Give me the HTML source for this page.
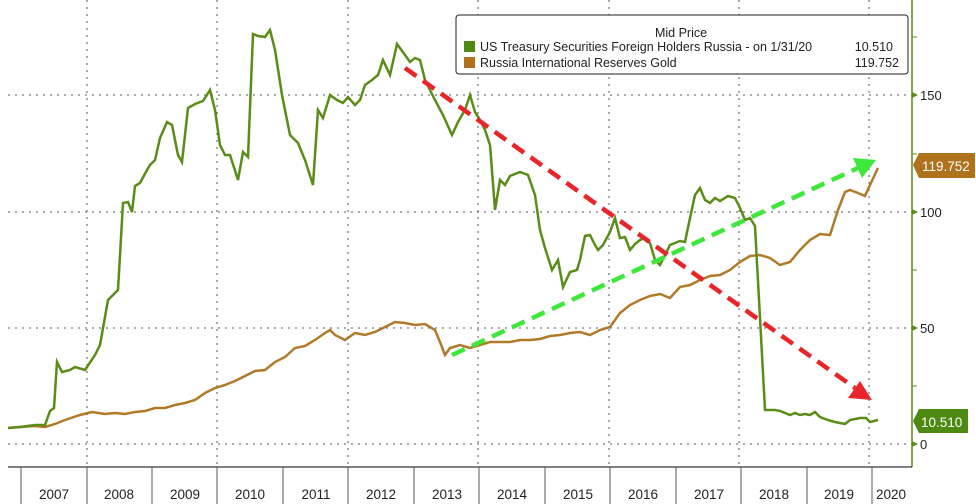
<!DOCTYPE html>
<html><head><meta charset="utf-8"><style>
body{margin:0;background:#fff;}
svg{display:block;font-family:"Liberation Sans",sans-serif;}
</style></head><body>
<svg width="976" height="504" viewBox="0 0 976 504">
<rect width="976" height="504" fill="#fff"/>
<g stroke="#555" stroke-width="1" stroke-dasharray="2,5">
<line x1="8" y1="444" x2="912" y2="444"/>
<line x1="8" y1="328" x2="912" y2="328"/>
<line x1="8" y1="212" x2="912" y2="212"/>
<line x1="8" y1="95" x2="912" y2="95"/>
<line x1="87" y1="0" x2="87" y2="467"/>
<line x1="217" y1="0" x2="217" y2="467"/>
<line x1="348" y1="0" x2="348" y2="467"/>
<line x1="478" y1="0" x2="478" y2="467"/>
<line x1="609" y1="0" x2="609" y2="467"/>
<line x1="739" y1="0" x2="739" y2="467"/>
<line x1="869" y1="0" x2="869" y2="467"/>
</g>
<polyline fill="none" stroke="#b07a2a" stroke-width="2.5" points="8,428 20,427 35,426 45,427 55,424 65,420 80,415 92,412 105,414 115,413 125,414 135,412 145,411 155,408 165,408 175,405 185,403 195,400 205,393 215,388 225,385 235,381 245,376 255,371 265,370 275,362 285,357 295,348 305,346 315,340 325,333 330,330 335,335 345,340 355,333 365,335 375,332 385,327 395,322 405,323 415,325 425,324 435,330 440,342 445,355 450,348 460,345 470,348 480,345 490,342 500,342 510,342 520,340 530,340 540,339 550,336 560,335 570,333 580,332 590,335 600,330 610,327 620,313 630,305 640,300 650,296 660,294 670,298 680,287 690,285 700,280 710,276 720,275 730,270 740,262 750,256 760,255 770,258 780,265 790,262 800,250 810,240 820,234 830,235 838,210 845,192 850,190 858,193 865,196 870,185 878,168"/>
<polyline fill="none" stroke="#5a8c18" stroke-width="2.5" points="8,428 20,427 35,425 45,425 50,411 54,408 57,362 62,372 70,370 75,367 85,370 95,355 100,345 108,300 115,293 118,290 123,203 128,202 132,212 135,186 140,183 147,170 150,165 155,160 160,138 167,122 172,125 178,155 182,162 188,108 195,104 203,101 210,90 215,110 220,145 225,155 230,155 238,180 243,152 248,157 253,34 258,36 265,37 270,30 275,50 282,95 290,135 298,143 305,160 313,185 318,110 323,118 330,95 337,100 343,103 348,97 355,105 360,100 365,85 372,80 378,75 383,60 390,75 397,44 405,55 410,62 415,58 420,60 425,80 435,100 443,115 452,135 458,122 465,110 470,95 475,112 480,120 485,130 490,145 495,210 500,180 505,185 510,176 520,172 528,175 535,195 540,230 545,248 552,270 558,260 563,287 570,272 577,270 580,260 585,236 590,235 595,245 598,250 603,245 610,232 615,218 620,238 625,237 630,250 635,244 640,240 645,238 650,243 655,260 660,265 665,255 670,245 675,243 680,241 685,242 690,218 695,195 700,188 705,200 710,203 715,198 720,201 728,196 735,198 740,208 745,220 750,218 755,226 760,318 765,410 775,410 780,411 790,415 795,413 800,415 805,414 810,415 815,412 820,417 828,420 835,422 845,424 850,420 860,418 866,418 870,422 878,420"/>
<line x1="405" y1="68" x2="855" y2="388" stroke="#e8262a" stroke-width="4.5" stroke-dasharray="14,8"/>
<polygon points="872,400 848,398 860,381" fill="#e8262a"/>
<line x1="452" y1="355" x2="858" y2="168" stroke="#3ee83a" stroke-width="4.5" stroke-dasharray="14,8"/>
<polygon points="876,160 853,158 862,178" fill="#3ee83a"/>
<line x1="912" y1="0" x2="912" y2="467" stroke="#5a8c18" stroke-width="1.5"/>
<line x1="8" y1="467" x2="912" y2="467" stroke="#000" stroke-width="1"/>
<g fill="#5a8c18">
<polygon points="912,441 918,444 912,447"/><polygon points="912,325 918,328 912,331"/><polygon points="912,209 918,212 912,215"/><polygon points="912,92 918,95 912,98"/>
</g>
<g stroke="#5a8c18"><line x1="912" y1="386" x2="917" y2="386"/><line x1="912" y1="270" x2="917" y2="270"/><line x1="912" y1="154" x2="917" y2="154"/><line x1="912" y1="37" x2="917" y2="37"/></g>
<g font-size="13" fill="#222"><text x="920" y="449">0</text><text x="920" y="333">50</text><text x="920" y="217">100</text><text x="920" y="100">150</text></g>
<polygon points="913,165 919,153 975,153 975,178 919,178" fill="#b0711c"/>
<text x="922" y="171" font-size="13.5" fill="#fff">119.752</text>
<polygon points="913,421 919,409 968,409 968,433 919,433" fill="#4e8a12"/>
<text x="921" y="427" font-size="13.5" fill="#fff">10.510</text>
<g stroke="#555"><line x1="21" y1="467" x2="21" y2="504"/><line x1="87" y1="467" x2="87" y2="504"/><line x1="152" y1="467" x2="152" y2="504"/><line x1="217" y1="467" x2="217" y2="504"/><line x1="283" y1="467" x2="283" y2="504"/><line x1="348" y1="467" x2="348" y2="504"/><line x1="414" y1="467" x2="414" y2="504"/><line x1="479" y1="467" x2="479" y2="504"/><line x1="545" y1="467" x2="545" y2="504"/><line x1="610" y1="467" x2="610" y2="504"/><line x1="676" y1="467" x2="676" y2="504"/><line x1="741" y1="467" x2="741" y2="504"/><line x1="807" y1="467" x2="807" y2="504"/><line x1="872" y1="467" x2="872" y2="504"/></g>
<g font-size="13.5" fill="#222" text-anchor="middle"><text x="54" y="499">2007</text><text x="119" y="499">2008</text><text x="185" y="499">2009</text><text x="250" y="499">2010</text><text x="316" y="499">2011</text><text x="381" y="499">2012</text><text x="447" y="499">2013</text><text x="512" y="499">2014</text><text x="578" y="499">2015</text><text x="643" y="499">2016</text><text x="709" y="499">2017</text><text x="774" y="499">2018</text><text x="839" y="499">2019</text><text x="891" y="499">2020</text></g>
<rect x="456" y="15" width="452" height="59" rx="3" fill="#fff" stroke="#222" stroke-width="1"/>
<text x="681" y="37" font-size="12.5" fill="#222" text-anchor="middle">Mid Price</text>
<rect x="464" y="41" width="11" height="11" fill="#4e8a12"/>
<rect x="464" y="57" width="11" height="11" fill="#b0711c"/>
<text x="480" y="51" font-size="12.5" fill="#222">US Treasury Securities Foreign Holders Russia -  on 1/31/20</text>
<text x="893" y="51" font-size="12.5" fill="#222" text-anchor="end">10.510</text>
<text x="480" y="67" font-size="12.5" fill="#222">Russia International Reserves Gold</text>
<text x="899" y="67" font-size="12.5" fill="#222" text-anchor="end">119.752</text>
</svg>
</body></html>
